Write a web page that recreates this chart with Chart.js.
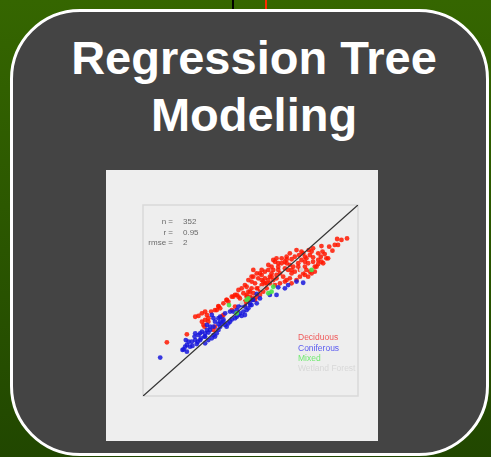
<!DOCTYPE html>
<html>
<head>
<meta charset="utf-8">
<script src="https://cdn.jsdelivr.net/npm/chart.js@4"></script>
<style>
  html, body { margin: 0; padding: 0; }
  body {
    width: 491px; height: 457px; overflow: hidden; position: relative;
    background: linear-gradient(to bottom, #356600, #214700);
  }
  .tick { position: absolute; top: 0; width: 2px; height: 10px; }
  .card {
    position: absolute; left: 10px; top: 9px; width: 479px; height: 447px;
    box-sizing: border-box; border: 3px solid #fff; border-radius: 70px;
    background: #444444;
  }
  .title {
    position: absolute; left: 14px; width: 480px; top: 29px; margin: 0;
    text-align: center; color: #fff;
    font: bold 47px/57px "Liberation Sans", Arial, sans-serif;
  }
  .inset {
    position: absolute; left: 106px; top: 170px; width: 272px; height: 271px;
    background: #eeeeee;
  }
</style>
</head>
<body>
<div class="tick" style="left:232px;background:#000"></div>
<div class="tick" style="left:265px;background:#ff2a00"></div>
<div class="card"></div>
<h1 class="title">Regression Tree<br>Modeling</h1>
<div class="inset"><canvas id="fitChart" width="272" height="271"></canvas></div>

<script>
// Observed (x) vs predicted (y), same units on both axes
const deciduous = [
  [11.1, 28.1], [20.4, 32.3], [25.8, 41.9], [28.9, 44.2], [29.7, 42.4], [28.9, 39.8],
  [28.1, 37.2], [30.4, 38.9], [34.3, 45.0], [35.1, 47.1], [38.9, 50.3], [42.8, 52.9],
  [44.4, 52.0], [45.1, 51.1], [46.7, 53.8], [48.2, 52.9], [49.8, 52.0], [51.3, 51.1],
  [47.4, 47.6], [49.0, 49.4], [42.8, 46.8], [41.3, 45.0], [37.4, 42.4], [36.6, 41.5],
  [32.8, 34.6], [33.5, 36.3], [94.9, 82.5], [92.3, 81.7], [90.3, 82.2], [90.7, 79.1],
  [89.2, 79.1], [86.6, 78.2], [88.1, 76.1], [83.5, 75.6], [82.7, 72.9], [81.5, 74.7],
  [79.1, 77.3], [78.4, 75.6], [77.6, 73.8], [76.0, 72.1], [76.8, 69.5], [75.3, 70.3],
  [73.7, 71.2], [72.6, 73.8], [70.6, 72.9], [72.2, 69.5], [69.9, 67.7], [68.3, 68.6],
  [66.8, 69.5], [66.0, 70.3], [64.5, 69.5], [62.9, 67.7], [61.4, 70.3], [60.6, 66.0],
  [59.8, 64.2], [59.0, 62.5], [58.3, 60.7], [57.5, 59.0], [56.7, 61.6], [55.9, 59.9],
  [55.2, 58.1], [54.4, 55.5], [53.6, 56.4], [52.1, 59.0], [51.3, 53.8], [50.5, 59.9],
  [49.8, 51.1], [48.2, 52.0], [47.4, 49.4], [74.5, 64.2], [76.0, 66.0], [79.9, 65.1],
  [80.7, 67.7], [83.0, 70.3], [77.6, 65.1], [73.0, 62.5], [71.4, 60.7], [68.3, 61.6],
  [66.8, 60.7], [65.2, 62.5], [63.7, 64.2], [62.1, 63.4], [60.6, 60.7], [59.0, 59.0],
  [57.5, 56.4], [55.9, 54.6], [54.4, 52.9], [52.9, 52.0], [52.1, 50.3], [69.1, 64.2],
  [67.5, 66.0], [70.6, 65.1], [73.0, 66.0], [75.3, 67.7], [79.1, 70.3], [81.5, 71.2],
  [83.8, 69.5], [85.3, 72.1], [78.4, 64.2], [60.6, 71.2], [62.1, 72.1], [68.3, 74.7],
  [66.8, 72.9], [59.8, 67.7], [58.3, 66.0], [56.7, 65.1], [55.2, 63.4], [53.6, 61.6],
  [49.0, 54.6], [48.2, 57.2], [54.4, 64.2], [52.9, 64.2], [51.3, 62.5], [83.0, 78.5],
  [84.5, 74.3], [77.1, 76.4], [74.5, 74.7], [69.1, 71.6], [64.5, 72.1], [39.7, 49.4],
  [42.0, 52.0], [35.9, 45.9], [31.7, 44.2], [27.4, 38.9], [28.6, 36.3], [30.4, 40.7],
  [73.7, 75.6], [71.4, 76.4], [66.8, 71.6], [62.9, 69.5], [58.3, 68.6], [55.2, 66.0],
  [51.3, 66.0], [50.5, 62.5], [49.0, 60.7], [47.4, 58.1], [45.9, 56.4], [44.4, 55.5],
  [43.6, 52.9], [41.3, 52.0], [38.9, 50.3], [37.4, 48.5], [35.1, 46.8], [33.5, 45.0],
  [27.4, 43.3], [24.3, 41.5], [76.8, 62.5], [79.9, 67.7], [75.3, 63.4], [69.1, 59.0],
  [66.0, 59.9], [63.7, 59.0], [61.4, 58.1], [62.9, 66.0], [66.0, 66.8], [69.1, 66.0],
  [72.2, 67.7], [75.3, 72.9], [79.1, 72.6], [81.5, 69.1], [86.1, 72.1], [56.7, 59.0],
  [55.2, 60.7], [59.8, 62.5], [62.1, 61.6], [52.9, 56.4], [50.5, 56.4], [49.8, 54.6]
];
const coniferous = [
  [8.0, 20.1], [18.9, 24.4], [20.4, 26.7], [21.9, 25.8], [19.9, 29.3], [22.7, 28.4],
  [24.3, 32.8], [24.0, 31.1], [25.8, 31.9], [27.4, 33.7], [28.9, 32.8], [29.7, 34.6],
  [30.4, 33.2], [28.6, 31.1], [26.6, 29.3], [25.5, 28.4], [30.4, 29.3], [32.0, 30.2],
  [32.8, 31.9], [33.5, 31.1], [34.3, 32.8], [35.1, 34.6], [35.9, 36.3], [36.6, 38.0],
  [37.4, 38.9], [38.2, 37.2], [38.9, 36.3], [39.7, 38.0], [40.5, 38.9], [41.3, 40.1],
  [42.8, 40.7], [43.6, 41.5], [44.4, 42.4], [45.1, 43.3], [45.9, 41.9], [46.7, 44.2],
  [47.4, 42.4], [48.2, 45.0], [49.0, 45.9], [50.5, 47.6], [49.8, 48.5], [50.9, 50.3],
  [32.0, 42.4], [32.8, 40.7], [33.5, 38.9], [35.1, 40.7], [35.9, 41.5], [31.2, 36.3],
  [29.7, 37.2], [71.4, 59.9], [74.5, 59.3], [66.0, 56.4], [67.5, 58.1], [62.1, 52.9],
  [59.0, 52.9], [54.4, 51.1], [51.3, 50.3], [62.9, 56.9], [23.0, 26.2], [25.0, 27.2],
  [27.0, 30.2], [28.9, 27.6], [35.1, 37.7], [37.4, 40.1], [42.0, 44.2], [44.4, 46.8],
  [45.9, 47.6], [52.9, 53.4], [20.4, 23.2], [21.2, 28.4], [19.6, 25.8], [26.6, 32.8],
  [28.9, 31.1], [31.2, 34.6], [32.8, 36.3], [35.9, 38.9], [38.2, 43.3], [40.5, 44.2],
  [43.6, 45.0], [47.4, 46.8], [49.8, 47.6], [52.9, 48.5], [24.3, 29.3], [18.4, 24.1]
];
const mixed = [
  [40.0, 47.6], [59.8, 54.6], [58.3, 53.8], [78.4, 66.0], [49.0, 51.1], [43.6, 43.3],
  [60.6, 57.2], [48.2, 50.3]
];
const wetland = [[55.2, 56.4], [73.7, 66.0], [46.0, 48.6]];

const groupNames = ['Deciduous', 'Coniferous', 'Mixed', 'Wetland Forest'];
const pointColors = ['rgba(255,24,0,0.85)', 'rgba(24,24,220,0.85)', 'rgba(70,225,70,0.9)', 'rgba(215,215,215,0.95)'];
const legendColors = ['#f05a5a', '#5a5af0', '#70ea70', '#d8d8d8'];
const fitLine = [[0, 0], [100, 100]];

const statLabels = ['n =', 'r =', 'rmse ='];
const statValues = ['352', '0.95', '2'];

const toXY = arr => arr.map(p => ({ x: p[0], y: p[1] }));

// frame, stats block and colored-text legend drawn on the canvas
const plotDecor = {
    id: 'plotDecor',
    beforeDatasetsDraw(chart) {
        const { ctx, chartArea: a } = chart;
        ctx.save();
        ctx.strokeStyle = '#d9d9d9';
        ctx.lineWidth = 1.5;
        ctx.strokeRect(a.left, a.top, a.right - a.left, a.bottom - a.top);
        ctx.restore();
    },
    afterDraw(chart) {
        const { ctx, chartArea: a } = chart;
        ctx.save();
        ctx.font = '8px "Liberation Sans", Arial, sans-serif';
        ctx.textBaseline = 'middle';
        ctx.fillStyle = '#6a6a6a';
        statLabels.forEach((lbl, i) => {
            const y = a.top + 17 + i * 10.5;
            ctx.textAlign = 'right';
            ctx.fillText(lbl, a.left + 30, y);
            ctx.textAlign = 'left';
            ctx.fillText(statValues[i], a.left + 40, y);
        });
        ctx.font = '8.5px "Liberation Sans", Arial, sans-serif';
        ctx.textAlign = 'left';
        groupNames.forEach((name, i) => {
            ctx.fillStyle = legendColors[i];
            ctx.fillText(name, a.left + 155, a.top + 133 + i * 10.3);
        });
        ctx.restore();
    }
};

const groups = [deciduous, coniferous, mixed, wetland];

new Chart(document.getElementById('fitChart'), {
    type: 'scatter',
    data: {
        datasets: [
            {
                type: 'line',
                label: 'Fit',
                data: toXY(fitLine),
                borderColor: '#333333',
                borderWidth: 1.3,
                pointRadius: 0,
                order: 0
            },
            ...groups.map((g, i) => ({
                label: groupNames[i],
                data: toXY(g),
                backgroundColor: pointColors[i],
                borderWidth: 0,
                pointRadius: 2.4,
                order: 4 - i
            }))
        ]
    },
    options: {
        responsive: false,
        animation: false,
        layout: { padding: { left: 37, top: 35, right: 20, bottom: 45 } },
        scales: {
            x: { type: 'linear', min: 0, max: 100, display: false },
            y: { type: 'linear', min: 0, max: 100, display: false }
        },
        plugins: {
            legend: { display: false },
            tooltip: { enabled: false }
        }
    },
    plugins: [plotDecor]
});
</script>
</body>
</html>
